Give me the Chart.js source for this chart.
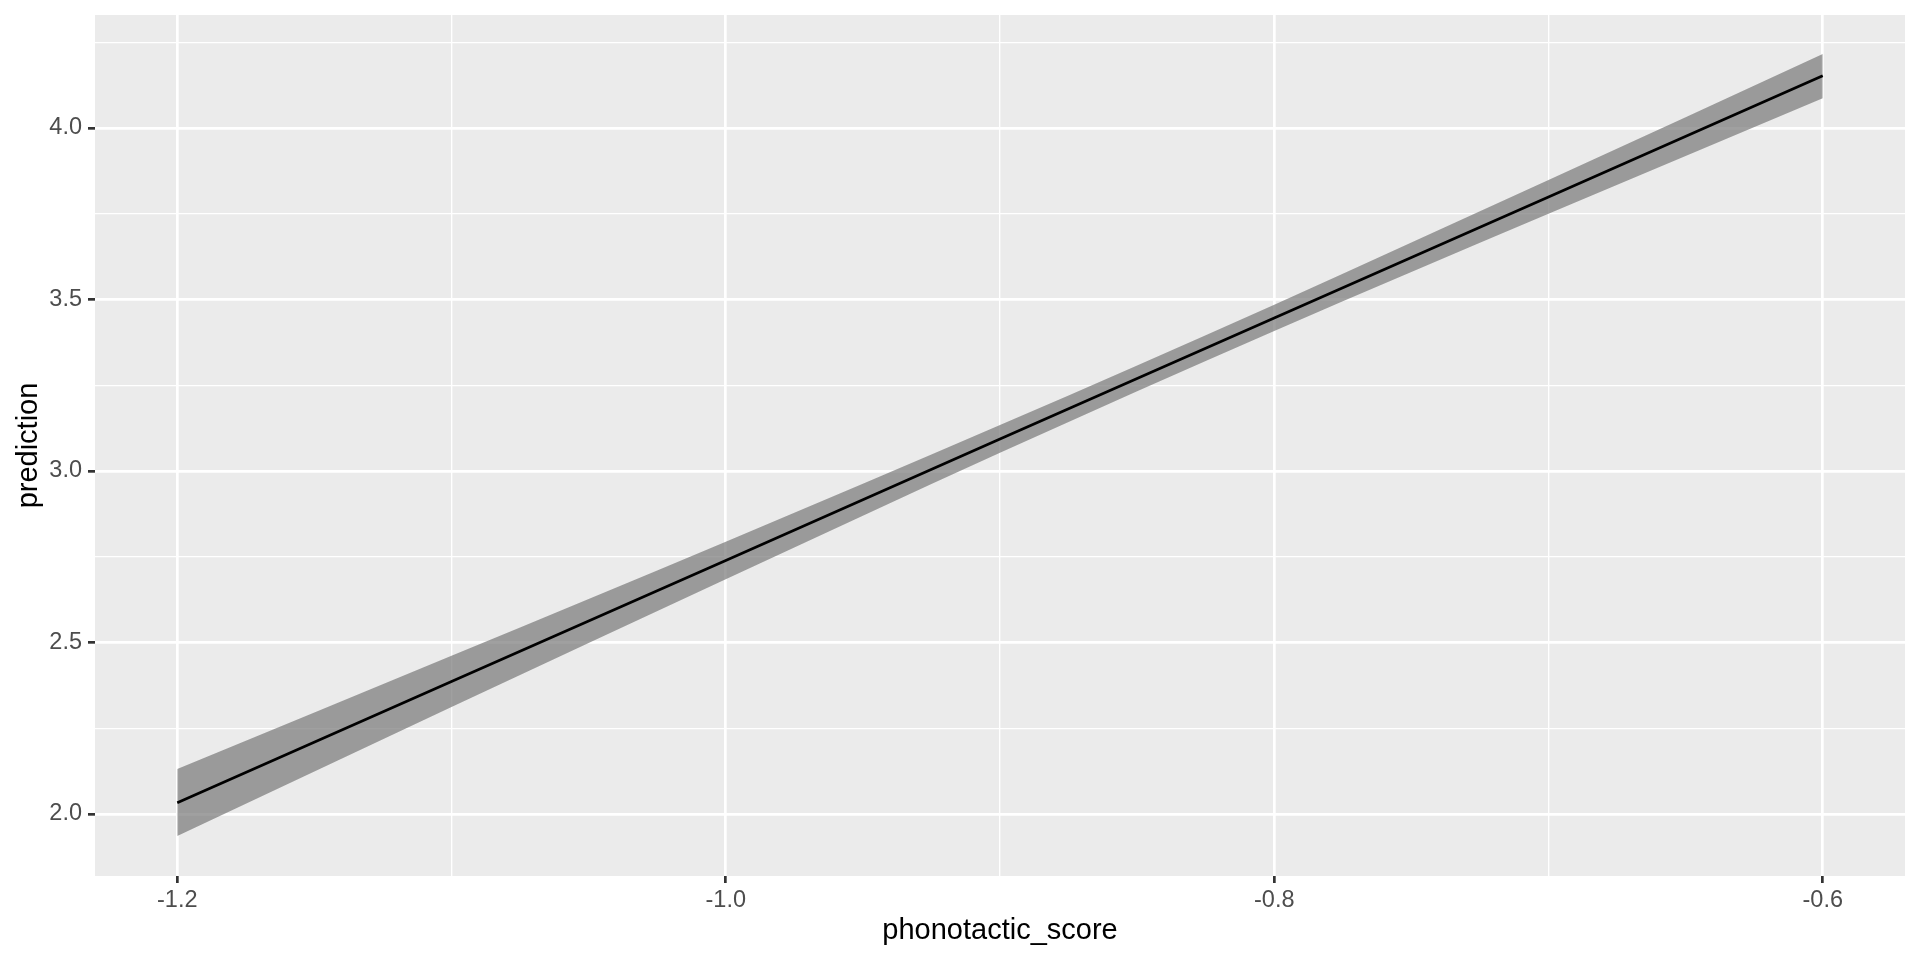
<!DOCTYPE html>
<html>
<head>
<meta charset="utf-8">
<script src="https://cdn.jsdelivr.net/npm/chart.js@4/dist/chart.umd.min.js"></script>
<style>
html,body{margin:0;padding:0;background:#fff;}
#wrap{width:1920px;height:960px;}
</style>
</head>
<body>
<div id="wrap"><canvas id="c" width="1920" height="960"></canvas></div>
<script>
// Data
const xValues   = [-1.2, -1.1, -1.0, -0.9, -0.8, -0.7, -0.6];
const fitValues = [2.033, 2.386, 2.739, 3.093, 3.446, 3.799, 4.152];
const upperBand = [2.131, 2.461, 2.794, 3.134, 3.485, 3.848, 4.216];
const lowerBand = [1.936, 2.312, 2.684, 3.053, 3.408, 3.750, 4.087];

const xMajorTicks = [-1.2, -1.0, -0.8, -0.6];
const xMinorTicks = [-1.1, -0.9, -0.7];
const yMajorTicks = [2.0, 2.5, 3.0, 3.5, 4.0];
const yMinorTicks = [2.25, 2.75, 3.25, 3.75, 4.25];

const xRange = [-1.23, -0.57];
const yRange = [1.8192, 4.3294];

const pts = (ys) => xValues.map((x, i) => ({x: x, y: ys[i]}));

const tickFont = {family: '"Liberation Sans", Arial, sans-serif', size: 23.5};
const titleFont = {family: '"Liberation Sans", Arial, sans-serif', size: 29};

function isMajor(list, v) { return list.some(t => Math.abs(t - v) < 1e-9); }

const bgPlugin = {
  id: 'panelBg',
  beforeDraw(chart) {
    const a = chart.chartArea, ctx = chart.ctx;
    ctx.save();
    ctx.fillStyle = '#EBEBEB';
    ctx.fillRect(a.left, a.top, a.right - a.left, a.bottom - a.top);
    ctx.restore();
  }
};

function gridOpts(majors) {
  return {
    drawOnChartArea: true,
    drawTicks: true,
    tickLength: 7,
    color: '#FFFFFF',
    lineWidth: (ctx) => isMajor(majors, ctx.tick.value) ? 2.7 : 1.35,
    tickColor: (ctx) => isMajor(majors, ctx.tick.value) ? '#333333' : 'rgba(0,0,0,0)',
    tickWidth: 2.7
  };
}

new Chart(document.getElementById('c'), {
  type: 'line',
  data: {
    datasets: [
      {
        label: 'upper',
        data: pts(upperBand),
        borderWidth: 0,
        borderColor: 'rgba(0,0,0,0)',
        backgroundColor: 'rgba(120,120,120,0.7)',
        pointRadius: 0,
        fill: '+1',
        cubicInterpolationMode: 'monotone',
        order: 2
      },
      {
        label: 'lower',
        data: pts(lowerBand),
        borderWidth: 0,
        borderColor: 'rgba(0,0,0,0)',
        pointRadius: 0,
        fill: false,
        cubicInterpolationMode: 'monotone',
        order: 2
      },
      {
        label: 'fit',
        data: pts(fitValues),
        borderColor: '#000000',
        borderWidth: 2.7,
        pointRadius: 0,
        fill: false,
        tension: 0,
        order: 1
      }
    ]
  },
  options: {
    responsive: false,
    animation: false,
    devicePixelRatio: 1,
    layout: {padding: {left: 0, top: 15, right: 15, bottom: 0}},
    plugins: {legend: {display: false}, tooltip: {enabled: false}},
    scales: {
      x: {
        type: 'linear',
        min: xRange[0],
        max: xRange[1],
        afterBuildTicks: (s) => { s.ticks = xMajorTicks.concat(xMinorTicks).sort((a,b)=>a-b).map(v => ({value: v})); },
        afterFit: (s) => { s.height = 84; s.paddingLeft = 0; s.paddingRight = 0; },
        border: {display: false},
        grid: gridOpts(xMajorTicks),
        ticks: {
          font: tickFont,
          color: '#4D4D4D',
          padding: 3,
          maxRotation: 0,
          autoSkip: false,
          callback: (v) => isMajor(xMajorTicks, v) ? v.toFixed(1) : ''
        },
        title: {
          display: true,
          text: 'phonotactic_score',
          font: titleFont,
          color: '#000000',
          padding: {top: 0, bottom: 12}
        }
      },
      y: {
        type: 'linear',
        min: yRange[0],
        max: yRange[1],
        afterBuildTicks: (s) => { s.ticks = yMajorTicks.concat(yMinorTicks).sort((a,b)=>a-b).map(v => ({value: v})); },
        afterFit: (s) => { s.width = 95; s.paddingTop = 0; s.paddingBottom = 0; },
        border: {display: false},
        grid: gridOpts(yMajorTicks),
        ticks: {
          font: tickFont,
          color: '#4D4D4D',
          padding: 6,
          autoSkip: false,
          callback: (v) => isMajor(yMajorTicks, v) ? v.toFixed(1) : ''
        },
        title: {
          display: true,
          text: 'prediction',
          font: titleFont,
          color: '#000000',
          padding: {top: 12, bottom: 0}
        }
      }
    }
  },
  plugins: [bgPlugin]
});
</script>
</body>
</html>
